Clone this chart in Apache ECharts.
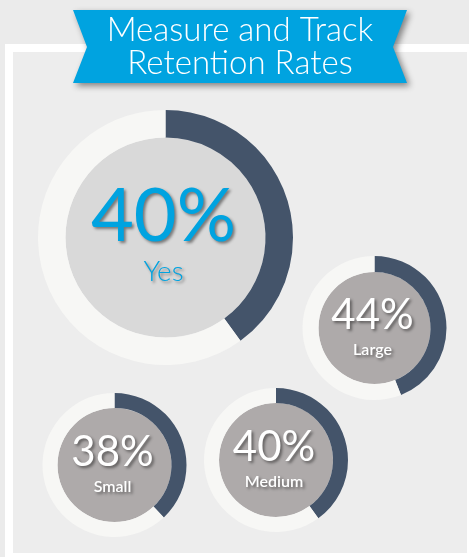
<!DOCTYPE html>
<html>
<head>
<meta charset="utf-8">
<script src="https://cdn.jsdelivr.net/npm/echarts@6/dist/echarts.min.js"></script>
<style>
  html, body { margin: 0; padding: 0; background: #ebebeb; }
  #chart { width: 469px; height: 557px; }
</style>
</head>
<body>
<div id="chart"></div>
<script>
const titleLines = ['Measure and Track', 'Retention Rates'];
const labels = ['Yes', 'Large', 'Small', 'Medium'];
const values = [40, 44, 38, 40];

// layout per donut: center, outer radius, inner disk radius
const layout = [
  { c: [165.5, 237.5], r: 127.5, disk: 100, big: true },
  { c: [374.5, 328], r: 72, disk: 56 },
  { c: [114.5, 465], r: 72, disk: 57 },
  { c: [276, 460], r: 72, disk: 57 }
];

const DARK = '#44546a';
const RING = '#f7f7f5';
const FONT = 'Lato, "Open Sans", sans-serif';
const shadow = { textShadowColor: 'rgba(0,0,0,0.45)', textShadowBlur: 3, textShadowOffsetX: 2, textShadowOffsetY: 2 };

const chart = echarts.init(document.getElementById('chart'), null, { renderer: 'canvas' });

const series = [];
const texts = [];
labels.forEach((name, i) => {
  const L = layout[i];
  series.push({
    type: 'pie',
    center: L.c,
    radius: [0, L.disk],
    silent: true,
    z: 2,
    label: { show: false },
    labelLine: { show: false },
    itemStyle: { color: L.big ? '#d9d9d9' : '#aeaaaa' },
    data: [{ value: 1, name: name + '-disk' }]
  });
  series.push({
    type: 'pie',
    center: L.c,
    radius: [L.disk, L.r],
    startAngle: 90,
    clockwise: true,
    silent: true,
    z: 3,
    label: { show: false },
    labelLine: { show: false },
    data: [
      { value: values[i], name: name, itemStyle: { color: DARK } },
      { value: 100 - values[i], name: name + '-rest', itemStyle: { color: RING } }
    ]
  });
  const color = L.big ? '#00a3e0' : '#ffffff';
  texts.push({
    type: 'text', z: 10,
    x: L.c[0] - 2, y: L.c[1] + (L.big ? -20 : -13),
    style: Object.assign({
      text: values[i] + '%', fill: color, font: (L.big ? '400 74px ' : '400 42px ') + FONT,
      align: 'center', verticalAlign: 'middle'
    }, shadow)
  });
  texts.push({
    type: 'text', z: 10,
    x: L.c[0] - 2, y: L.c[1] + (L.big ? 34 : 22),
    style: Object.assign({
      text: name, fill: color, font: (L.big ? '300 28px ' : '600 16px ') + FONT,
      align: 'center', verticalAlign: 'middle'
    }, shadow)
  });
});

chart.setOption({
  animation: false,
  backgroundColor: '#ebebeb',
  graphic: [
    { type: 'rect', z: 0, shape: { x: 5, y: 44, width: 470, height: 520 }, style: { fill: '#ffffff' } },
    { type: 'rect', z: 0, shape: { x: 13, y: 52, width: 454, height: 501 }, style: { fill: '#ededed' } },
    {
      type: 'polygon', z: 20,
      shape: { points: [[73, 10], [407, 10], [393, 47], [407, 83], [73, 83], [87, 47]] },
      style: { fill: '#00a3e0', shadowColor: 'rgba(0,0,0,0.45)', shadowBlur: 6, shadowOffsetX: 3, shadowOffsetY: 3 }
    },
    {
      type: 'text', z: 21, x: 240, y: 30,
      style: { text: titleLines[0], fill: '#ffffff', font: '300 33px ' + FONT, align: 'center', verticalAlign: 'middle' }
    },
    {
      type: 'text', z: 21, x: 240, y: 63,
      style: { text: titleLines[1], fill: '#ffffff', font: '300 33px ' + FONT, align: 'center', verticalAlign: 'middle' }
    }
  ].concat(texts),
  series: series
});
</script>
</body>
</html>
